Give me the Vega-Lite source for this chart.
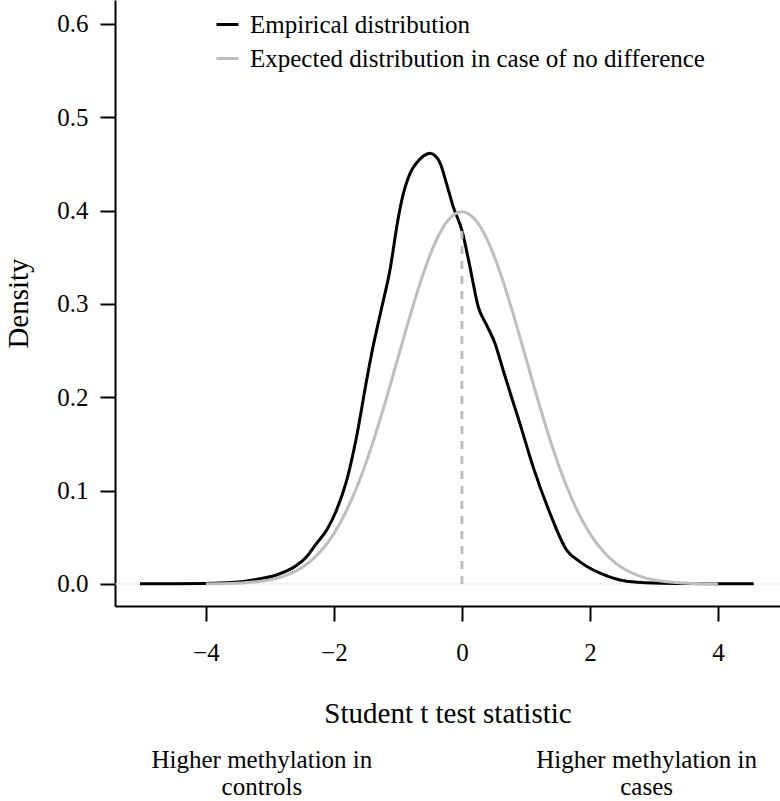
{
  "$schema": "https://vega.github.io/schema/vega-lite/v6.json",
  "width": 665,
  "height": 606,
  "autosize": {"type": "none"},
  "padding": {"left": 115, "top": 0, "right": 0, "bottom": 195},
  "background": "white",
  "config": {
    "view": {"stroke": null},
    "font": "Liberation Serif",
    "axis": {
      "domainColor": "black",
      "domainWidth": 2,
      "tickColor": "black",
      "tickWidth": 2,
      "tickSize": 15,
      "grid": false,
      "labelFont": "Liberation Serif",
      "labelFontSize": 25,
      "labelColor": "black",
      "titleFont": "Liberation Serif",
      "titleFontSize": 29,
      "titleFontWeight": "normal",
      "titleColor": "black"
    },
    "legend": {
      "labelFont": "Liberation Serif",
      "labelFontSize": 25,
      "labelColor": "black",
      "labelLimit": 0
    }
  },
  "datasets": {
    "empirical": [
      {"t": -5.03, "density": 0.0003},
      {"t": -4.5, "density": 0.0003},
      {"t": -4.0, "density": 0.0005},
      {"t": -3.6, "density": 0.0015},
      {"t": -3.2, "density": 0.005},
      {"t": -2.9, "density": 0.0096},
      {"t": -2.58, "density": 0.02},
      {"t": -2.43, "density": 0.029},
      {"t": -2.27, "density": 0.0436},
      {"t": -2.11, "density": 0.058},
      {"t": -1.96, "density": 0.079},
      {"t": -1.8, "density": 0.111},
      {"t": -1.645, "density": 0.158},
      {"t": -1.5, "density": 0.214},
      {"t": -1.41, "density": 0.247},
      {"t": -1.25, "density": 0.297},
      {"t": -1.125, "density": 0.336},
      {"t": -1.0, "density": 0.39},
      {"t": -0.94, "density": 0.411},
      {"t": -0.81, "density": 0.44},
      {"t": -0.71, "density": 0.451},
      {"t": -0.6, "density": 0.4585},
      {"t": -0.5, "density": 0.4615},
      {"t": -0.42, "density": 0.459},
      {"t": -0.34, "density": 0.451},
      {"t": -0.24, "density": 0.429},
      {"t": -0.135, "density": 0.404},
      {"t": 0.0, "density": 0.379},
      {"t": 0.125, "density": 0.34},
      {"t": 0.255, "density": 0.297},
      {"t": 0.385, "density": 0.2775},
      {"t": 0.516, "density": 0.258},
      {"t": 0.645, "density": 0.229},
      {"t": 0.776, "density": 0.2},
      {"t": 0.906, "density": 0.172},
      {"t": 1.11, "density": 0.126},
      {"t": 1.375, "density": 0.076},
      {"t": 1.64, "density": 0.036},
      {"t": 1.84, "density": 0.024},
      {"t": 2.16, "density": 0.0115},
      {"t": 2.57, "density": 0.003},
      {"t": 3.0, "density": 0.001},
      {"t": 3.5, "density": 0.0004},
      {"t": 4.0, "density": 0.0003},
      {"t": 4.56, "density": 0.0003}
    ],
    "expected": [
      {"t": -4.0, "density": 0.0001},
      {"t": -3.8, "density": 0.0003},
      {"t": -3.6, "density": 0.0006},
      {"t": -3.4, "density": 0.0012},
      {"t": -3.2, "density": 0.0024},
      {"t": -3.0, "density": 0.0044},
      {"t": -2.8, "density": 0.0079},
      {"t": -2.6, "density": 0.0136},
      {"t": -2.4, "density": 0.0224},
      {"t": -2.2, "density": 0.0355},
      {"t": -2.0, "density": 0.054},
      {"t": -1.8, "density": 0.079},
      {"t": -1.6, "density": 0.1109},
      {"t": -1.4, "density": 0.1497},
      {"t": -1.2, "density": 0.1942},
      {"t": -1.0, "density": 0.242},
      {"t": -0.8, "density": 0.2897},
      {"t": -0.6, "density": 0.3332},
      {"t": -0.4, "density": 0.3683},
      {"t": -0.2, "density": 0.391},
      {"t": 0.0, "density": 0.3989},
      {"t": 0.2, "density": 0.391},
      {"t": 0.4, "density": 0.3683},
      {"t": 0.6, "density": 0.3332},
      {"t": 0.8, "density": 0.2897},
      {"t": 1.0, "density": 0.242},
      {"t": 1.2, "density": 0.1942},
      {"t": 1.4, "density": 0.1497},
      {"t": 1.6, "density": 0.1109},
      {"t": 1.8, "density": 0.079},
      {"t": 2.0, "density": 0.054},
      {"t": 2.2, "density": 0.0355},
      {"t": 2.4, "density": 0.0224},
      {"t": 2.6, "density": 0.0136},
      {"t": 2.8, "density": 0.0079},
      {"t": 3.0, "density": 0.0044},
      {"t": 3.2, "density": 0.0024},
      {"t": 3.4, "density": 0.0012},
      {"t": 3.6, "density": 0.0006},
      {"t": 3.8, "density": 0.0003},
      {"t": 4.0, "density": 0.0001}
    ]
  },
  "layer": [
    {
      "data": {"values": [{"zero": 0}]},
      "mark": {"type": "rule", "color": "#e6e6e6", "strokeWidth": 1},
      "encoding": {
        "y": {"field": "zero", "type": "quantitative", "scale": {"domain": [-0.0236, 0.6257], "nice": false, "zero": false}}
      }
    },
    {
      "data": {"name": "empirical"},
      "transform": [{"calculate": "'Empirical distribution'", "as": "series"}],
      "mark": {"type": "line", "interpolate": "monotone", "strokeWidth": 3},
      "encoding": {
        "x": {"field": "t", "type": "quantitative", "scale": {"domain": [-5.42, 4.97], "nice": false, "zero": false},
              "axis": {"values": [-4, -2, 0, 2, 4], "format": "d", "title": "Student t test statistic", "labelPadding": 19, "titlePadding": 34}},
        "y": {"field": "density", "type": "quantitative", "scale": {"domain": [-0.0236, 0.6257], "nice": false, "zero": false},
              "axis": {"values": [0, 0.1, 0.2, 0.3, 0.4, 0.5, 0.6], "format": ".1f", "title": "Density", "labelPadding": 12, "titlePadding": 23}},
        "color": {"field": "series", "type": "nominal",
                  "scale": {"domain": ["Empirical distribution", "Expected distribution in case of no difference"], "range": ["black", "#bebebe"]},
                  "legend": {"title": null, "orient": "none", "legendX": 100, "legendY": 12, "symbolType": "stroke", "symbolSize": 484, "symbolStrokeWidth": 3, "labelOffset": 10, "rowPadding": 8, "labelLimit": 0}}
      }
    },
    {
      "data": {"name": "expected"},
      "transform": [{"calculate": "'Expected distribution in case of no difference'", "as": "series"}],
      "mark": {"type": "line", "interpolate": "monotone", "strokeWidth": 3},
      "encoding": {
        "x": {"field": "t", "type": "quantitative", "scale": {"domain": [-5.42, 4.97], "nice": false, "zero": false}},
        "y": {"field": "density", "type": "quantitative", "scale": {"domain": [-0.0236, 0.6257], "nice": false, "zero": false}},
        "color": {"field": "series", "type": "nominal",
                  "scale": {"domain": ["Empirical distribution", "Expected distribution in case of no difference"], "range": ["black", "#bebebe"]}}
      }
    },
    {
      "data": {"values": [{"t": 0, "lo": 0, "hi": 0.383}]},
      "mark": {"type": "rule", "color": "#bebebe", "strokeWidth": 3, "strokeDash": [8, 7]},
      "encoding": {
        "x": {"field": "t", "type": "quantitative"},
        "y": {"field": "lo", "type": "quantitative"},
        "y2": {"field": "hi"}
      }
    },
    {
      "data": {"values": [
        {"t": -3.125, "y": -0.197, "label": "Higher methylation in\ncontrols"},
        {"t": 2.886, "y": -0.197, "label": "Higher methylation in\ncases"}
      ]},
      "mark": {"type": "text", "lineBreak": "\n", "align": "center", "baseline": "alphabetic", "fontSize": 25, "lineHeight": 27, "font": "Liberation Serif", "color": "black"},
      "encoding": {
        "x": {"field": "t", "type": "quantitative"},
        "y": {"field": "y", "type": "quantitative"},
        "text": {"field": "label"}
      }
    }
  ]
}
